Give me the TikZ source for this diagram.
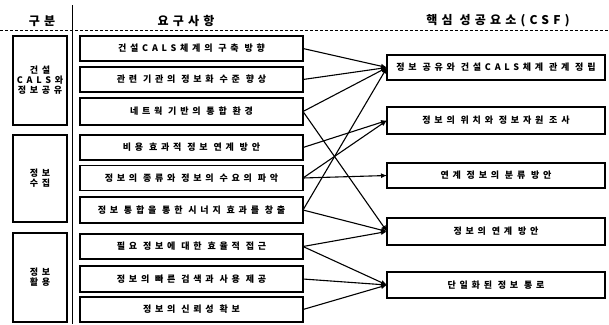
\documentclass[tikz,border=0pt]{standalone}
\usepackage{fontspec}
\setmainfont{Noto Sans CJK KR}
\newfontfamily\krf[LetterSpace=42]{Noto Sans CJK KR}
\newfontfamily\hdf[LetterSpace=35]{Noto Sans CJK KR}
\usetikzlibrary{arrows.meta}
\begin{document}
\begin{tikzpicture}[x=1pt,y=-1pt,
  every node/.style={inner sep=0pt, outer sep=0pt},
  box/.style={draw, line width=1.1pt, font=\krf\bfseries\fontsize{9}{10}\selectfont},
  lbox/.style={box, minimum width=223pt, minimum height=25pt},
  rbox/.style={box, minimum width=218pt, minimum height=26pt},
  cbox/.style={box, minimum width=54pt, align=center},
  hd/.style={font=\hdf\bfseries\fontsize{12}{14}\selectfont},
  rule/.style={line width=0.8pt, densely dashed},
  link/.style={line width=1.1pt, -{Latex[length=6pt,width=5pt]}}]
\useasboundingbox (0,0) rectangle (609,324);

% headers
\node[hd] (h1) at (42,21) {구분};
\node[hd] (h2) at (186,21) {요구사항};
\node[hd] (h3) at (498,21) {핵심 성공요소(CSF)};
\coordinate (hl1) at (0,30);
\coordinate (hl2) at (609,30);
\coordinate (vl1) at (72,5);
\coordinate (vl2) at (72,324);
\draw[rule] (hl1) -- (hl2);
\draw[line width=0.8pt] (vl1) -- (vl2);

% categories
\node[cbox, minimum height=89pt] (c1) at (40,80.5) {건설\\CALS와\\정보공유};
\node[cbox, minimum height=87pt] (c2) at (40,178.5) {정보\\수집};
\node[cbox, minimum height=89pt] (c3) at (40,277.5) {정보\\활용};

% requirements
\node[lbox] (r1) at (191.5,48.5) {건설CALS체계의 구축 방향};
\node[lbox] (r2) at (191.5,79.5) {관련 기관의 정보화 수준 향상};
\node[lbox, minimum height=27pt] (r3) at (191.5,111.5) {네트웍 기반의 통합 환경};
\node[lbox] (r4) at (191.5,147.5) {비용 효과적 정보 연계 방안};
\node[lbox] (r5) at (191.5,178) {정보의 종류와 정보의 수요의 파악};
\node[lbox, minimum height=26pt] (r6) at (191.5,210) {정보 통합을 통한 시너지 효과를 창출};
\node[lbox] (r7) at (191.5,246.5) {필요 정보에 대한 효율적 접근};
\node[lbox, minimum height=26pt] (r8) at (191.5,279) {정보의 빠른 검색과 사용 제공};
\node[lbox] (r9) at (191.5,309.5) {정보의 신뢰성 확보};

% CSF
\node[rbox, minimum height=25pt] (a) at (496,67.5) {정보 공유와 건설CALS체계 관계 정립};
\node[rbox, minimum height=27pt] (b) at (496,120.5) {정보의 위치와 정보자원 조사};
\node[rbox, minimum height=25pt] (c) at (496,175.5) {연계 정보의 분류 방안};
\node[rbox, minimum height=27pt] (d) at (496,231.5) {정보의 연계 방안};
\node[rbox] (e) at (496,285) {단일화된 정보 통로};

% links
\draw[link] (r1.east) -- (a.west);
\draw[link] (r2.east) -- (a.west);
\draw[link] (r3.east) -- (a.west);
\draw[link] (r3.east) -- (d.west);
\draw[link] (r4.east) -- (b.west);
\draw[link] (r5.east) -- (b.west);
\draw[link] (r5.east) -- (c.west);
\draw[link] (r6.east) -- (a.west);
\draw[link] (r6.east) -- (d.west);
\draw[link] (r7.east) -- (d.west);
\draw[link] (r7.east) -- (e.west);
\draw[link] (r8.east) -- (e.west);
\draw[link] (r9.east) -- (e.west);
\end{tikzpicture}
\end{document}
